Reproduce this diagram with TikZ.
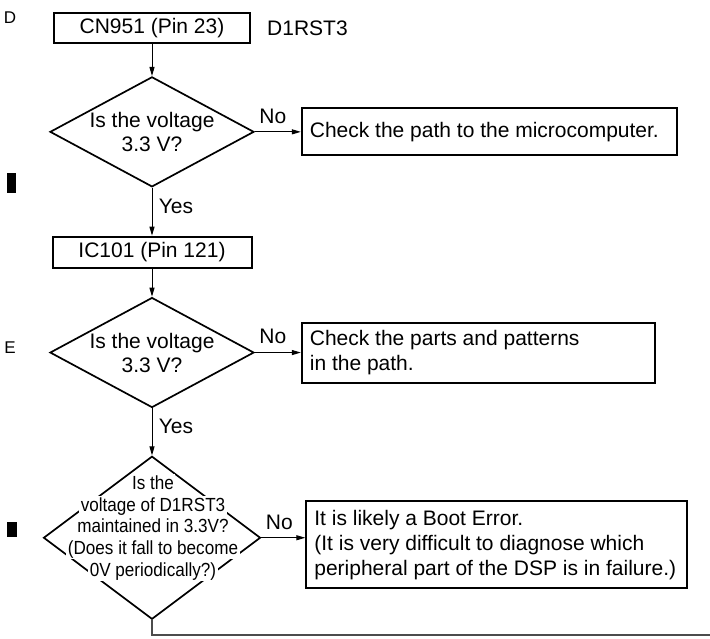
\documentclass[tikz,border=0pt]{standalone}
\usepackage{fontspec}
\setmainfont{Liberation Sans}
\newfontfamily\narrowfont[FakeStretch=0.9]{Liberation Sans}
\usetikzlibrary{arrows.meta,positioning,shapes.geometric}
\tikzset{
  box/.style={draw, line width=2pt, inner sep=0pt, font=\fontsize{21}{25}\selectfont},
  check/.style={box, inner xsep=8pt, align=flush left},
  decision/.style={diamond, draw, line width=1.7pt, inner sep=0pt, aspect=1.85,
    minimum width=204pt, minimum height=110pt, align=center, font=\fontsize{21}{24}\selectfont},
  arrow/.style={-{Stealth[length=9pt, width=5pt, inset=0pt]}, line width=1pt},
  no/.style={pos=0, anchor=south west, inner sep=0pt, xshift=4pt, yshift=8pt, font=\fontsize{21}{25}\selectfont},
  yes/.style={pos=0.38, right, xshift=3pt, font=\fontsize{21}{25}\selectfont},
  qline/.style={anchor=base, fill=white, inner sep=1.5pt, font={\narrowfont\fontsize{19}{21}\selectfont}},
  rowlabel/.style={inner sep=0pt, font=\fontsize{17}{20}\selectfont},
}

\begin{document}
\begin{tikzpicture}[x=1pt, y=-1pt]
  \useasboundingbox (0,0) rectangle (710,639);

  % Margin marks
  \node[rowlabel] (rowD) at (10,18) {D};
  \node[rowlabel] (rowE) at (10,348) {E};
  \fill (7,173) rectangle (16,193);
  \fill (7,522) rectangle (17,537);

  % First check point
  \node[box, minimum width=196pt, minimum height=30pt] (cn) at (152,28) {CN951 (Pin 23)};
  \node[right=16pt of cn, inner sep=0pt, font=\fontsize{21}{25}\selectfont] (sig) {D1RST3};
  \node[decision, below=32pt of cn] (d1) {Is the voltage\\3.3 V?};
  \node[check, right=46pt of d1, text width=359pt, minimum height=47pt] (chk1)
    {Check the path to the microcomputer.};

  % Second check point
  \node[box, minimum width=199pt, minimum height=31pt, below=48pt of d1] (ic) {IC101 (Pin 121)};
  \node[decision, below=28pt of ic] (d2) {Is the voltage\\3.3 V?};
  \node[check, right=46pt of d2, text width=337pt, minimum height=60pt] (chk2)
    {Check the parts and patterns\\in the path.};

  % Reset line check
  \node[diamond, draw, line width=1.7pt, inner sep=0pt, minimum width=217pt,
    minimum height=163pt, below=47pt of d2] (d3) {};
  \node[qline] (q1) at (153,489) {Is the};
  \node[qline] (q2) at (153,511) {voltage of D1RST3};
  \node[qline] (q3) at (153,532) {maintained in 3.3V?};
  \node[qline] (q4) at (153,554) {(Does it fall to become};
  \node[qline] (q5) at (153,576) {0V periodically?)};
  \node[check, right=44pt of d3, yshift=-7pt, text width=365pt, minimum height=87pt] (chk3)
    {It is likely a Boot Error.\\(It is very difficult to diagnose which\\peripheral part of the DSP is in failure.)};

  % Connectors
  \draw[arrow] (cn) -- (d1);
  \draw[arrow] (d1.east) -- node[no] {No} (d1.east -| chk1.west);
  \draw[arrow] (d1) -- node[yes] {Yes} (ic);
  \draw[arrow] (ic) -- (d2);
  \draw[arrow] (d2.east) -- node[no] {No} (d2.east -| chk2.west);
  \draw[arrow] (d2) -- node[yes] {Yes} (d3);
  \draw[arrow] (d3.east) -- node[no] {No} (d3.east -| chk3.west);
  \coordinate (out) at (710,635);
  \draw[line width=2pt, black!70] (d3.south) |- (out);
\end{tikzpicture}
\end{document}
